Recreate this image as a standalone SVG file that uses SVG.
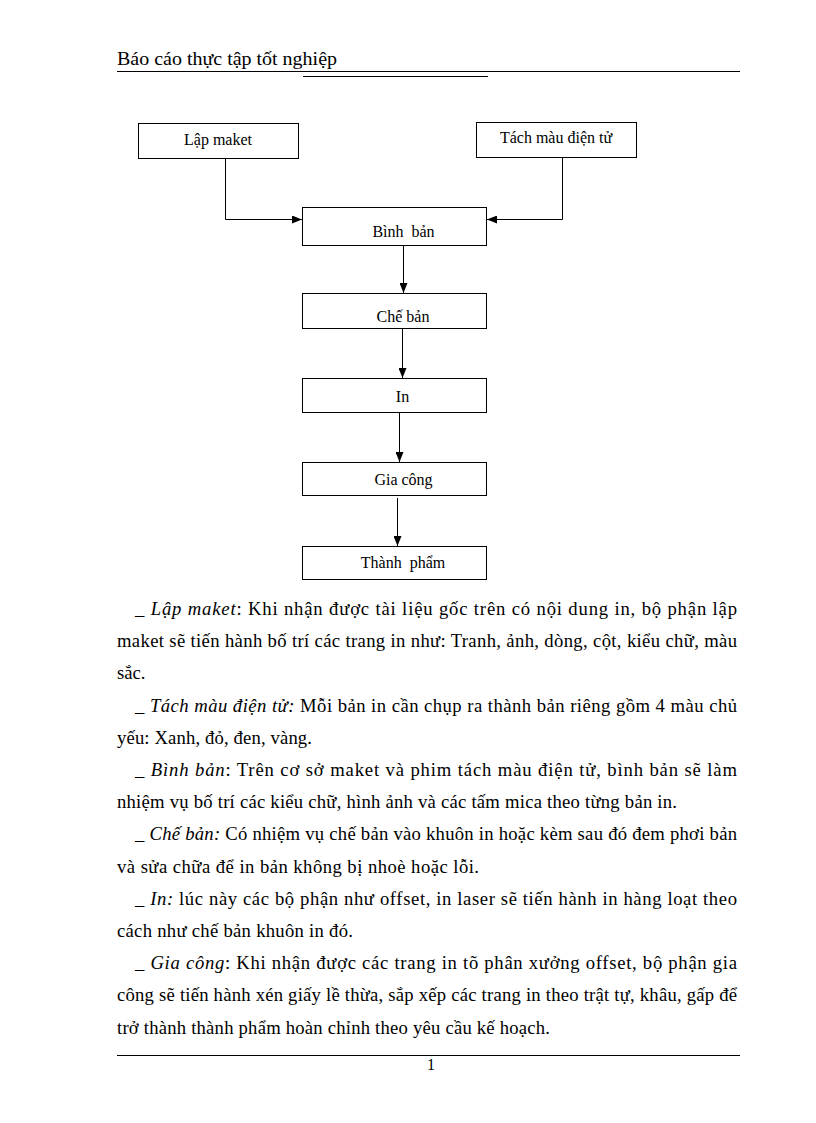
<svg xmlns="http://www.w3.org/2000/svg" width="816" height="1123" viewBox="0 0 816 1123">
<style>
  text { font-family: "Liberation Serif", "Times New Roman", serif; fill: #000; }
  .hdr { font-size: 18.67px; }
  .lbl { font-size: 16px; text-anchor: middle; }
  .body { font-size: 18.67px; }
  .it { font-style: italic; }
  .box { fill: #fff; stroke: #000; stroke-width: 1; }
  .rule { stroke: #000; stroke-width: 1; fill: none; }
  .conn path { fill: none; stroke: #000; stroke-width: 1; marker-end: url(#arr); }
</style>
<defs>
  <marker id="arr" markerUnits="userSpaceOnUse" markerWidth="10" markerHeight="8" refX="10" refY="4" orient="auto">
    <path d="M0,0 L10,4 L0,8 z" fill="#000"/>
  </marker>
</defs>
<rect width="816" height="1123" fill="#fff"/>

<g id="header">
  <text class="hdr" x="117" y="65" textLength="220" lengthAdjust="spacingAndGlyphs">Báo cáo thực tập tốt nghiệp</text>
  <line class="rule" x1="117" y1="71.5" x2="740" y2="71.5"/>
  <line class="rule" x1="303" y1="76.5" x2="488" y2="76.5"/>
</g>

<g id="node-lap-maket">
  <rect class="box" x="138.5" y="123.5" width="160" height="35"/>
  <text class="lbl" x="218" y="145">Lập maket</text>
</g>
<g id="node-tach-mau">
  <rect class="box" x="476.5" y="122.5" width="160" height="35"/>
  <text class="lbl" x="556" y="143">Tách màu điện tử</text>
</g>
<g id="node-binh-ban">
  <rect class="box" x="302.5" y="207.5" width="184" height="38"/>
  <text class="lbl" x="403.5" y="237" xml:space="preserve">Bình  bản</text>
</g>
<g id="node-che-ban">
  <rect class="box" x="302.5" y="293.5" width="184" height="35"/>
  <text class="lbl" x="403" y="322">Chế bản</text>
</g>
<g id="node-in">
  <rect class="box" x="302.5" y="378.5" width="184" height="34"/>
  <text class="lbl" x="402.5" y="402">In</text>
</g>
<g id="node-gia-cong">
  <rect class="box" x="302.5" y="462.5" width="184" height="33"/>
  <text class="lbl" x="403.5" y="485">Gia công</text>
</g>
<g id="node-thanh-pham">
  <rect class="box" x="302.5" y="546.5" width="184" height="33"/>
  <text class="lbl" x="403" y="568" xml:space="preserve">Thành  phẩm</text>
</g>

<g id="connectors" class="conn">
  <path d="M225.5,159 V219.5 H302"/>
  <path d="M562.5,158 V219.5 H487"/>
  <path d="M403.5,246 V293"/>
  <path d="M402.5,329 V378"/>
  <path d="M399.5,413 V462"/>
  <path d="M397.5,498 V546"/>
</g>

<g id="body-text" class="body">
  <text class="body" x="135" y="615" textLength="602" lengthAdjust="spacing">_ <tspan class="it">Lập maket</tspan>: Khi nhận được tài liệu gốc trên có nội dung in, bộ phận lập</text>
  <text class="body" x="117" y="647.2" textLength="620" lengthAdjust="spacing">maket sẽ tiến hành bố trí các trang in như: Tranh, ảnh, dòng, cột, kiểu chữ, màu</text>
  <text class="body" x="117" y="679.4">sắc.</text>
  <text class="body" x="135" y="711.6" textLength="602" lengthAdjust="spacing">_ <tspan class="it">Tách màu điện tử:</tspan> Mỗi bản in cần chụp ra thành bản riêng gồm 4 màu chủ</text>
  <text class="body" x="117" y="743.8" textLength="195" lengthAdjust="spacing">yếu: Xanh, đỏ, đen, vàng.</text>
  <text class="body" x="135" y="776" textLength="602" lengthAdjust="spacing">_ <tspan class="it">Bình bản</tspan>: Trên cơ sở maket và phim tách màu điện tử, bình bản sẽ làm</text>
  <text class="body" x="117" y="808.2" textLength="560" lengthAdjust="spacing">nhiệm vụ bố trí các kiểu chữ, hình ảnh và các tấm mica theo từng bản in.</text>
  <text class="body" x="135" y="840.4" textLength="602" lengthAdjust="spacing">_ <tspan class="it">Chế bản:</tspan> Có nhiệm vụ chế bản vào khuôn in hoặc kèm sau đó đem phơi bản</text>
  <text class="body" x="117" y="872.6" textLength="362" lengthAdjust="spacing">và sửa chữa để in bản không bị nhoè hoặc lỗi.</text>
  <text class="body" x="135" y="904.8" textLength="602" lengthAdjust="spacing">_ <tspan class="it">In:</tspan> lúc này các bộ phận như offset, in laser sẽ tiến hành in hàng loạt theo</text>
  <text class="body" x="117" y="937" textLength="236" lengthAdjust="spacing">cách như chế bản khuôn in đó.</text>
  <text class="body" x="135" y="969.2" textLength="602" lengthAdjust="spacing">_ <tspan class="it">Gia công</tspan>: Khi nhận được các trang in tõ phân xưởng offset, bộ phận gia</text>
  <text class="body" x="117" y="1001.4" textLength="620" lengthAdjust="spacing">công sẽ tiến hành xén giấy lề thừa, sắp xếp các trang in theo trật tự, khâu, gấp để</text>
  <text class="body" x="117" y="1033.6" textLength="433" lengthAdjust="spacing">trở thành thành phẩm hoàn chỉnh theo yêu cầu kế hoạch.</text>
</g>

<g id="footer">
  <line class="rule" x1="117" y1="1055.5" x2="740" y2="1055.5"/>
  <text x="431" y="1070" style="font-size:16px;text-anchor:middle">1</text>
</g>
</svg>
